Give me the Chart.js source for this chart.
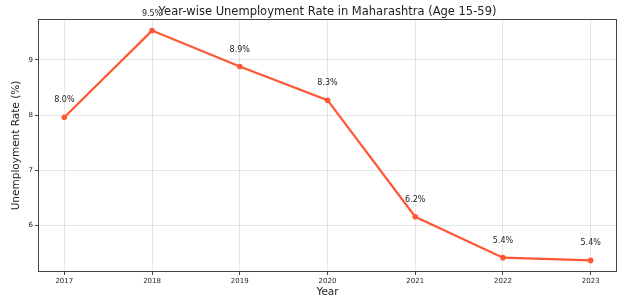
<!DOCTYPE html>
<html>
<head>
<meta charset="utf-8">
<script src="https://cdn.jsdelivr.net/npm/chart.js@4"></script>
<style>
  html, body { margin: 0; padding: 0; background: #fff; }
  #wrap { width: 623px; height: 299px; }
</style>
</head>
<body>
<div id="wrap"><canvas id="chart"></canvas></div>
<script>
const years = [2017, 2018, 2019, 2020, 2021, 2022, 2023];
const rates = [7.96, 9.53, 8.88, 8.27, 6.16, 5.42, 5.37];
const yTicks = [6, 7, 8, 9];
const chartTitle = 'Year-wise Unemployment Rate in Maharashtra (Age 15-59)';

const lineColor = '#ff5733';

// value labels above each point
const pointLabels = {
    id: 'pointLabels',
    afterDatasetsDraw(chart) {
        const ctx = chart.ctx;
        const meta = chart.getDatasetMeta(0);
        ctx.save();
        ctx.font = '8px "DejaVu Sans"';
        ctx.fillStyle = '#222';
        ctx.textAlign = 'center';
        ctx.textBaseline = 'middle';
        meta.data.forEach((pt, i) => {
            ctx.fillText(rates[i].toFixed(1) + '%', pt.x, pt.y - 17);
        });
        ctx.restore();
    }
};

// box around the plot area + title centred over it (like matplotlib)
const frame = {
    id: 'frame',
    afterDraw(chart) {
        const a = chart.chartArea;
        const ctx = chart.ctx;
        ctx.save();
        ctx.strokeStyle = '#444';
        ctx.lineWidth = 1;
        ctx.strokeRect(a.left + 0.5, a.top + 0.5, a.right - a.left - 1, a.bottom - a.top - 1);
        ctx.font = '11.5px "DejaVu Sans"';
        ctx.fillStyle = '#222';
        ctx.textAlign = 'center';
        ctx.textBaseline = 'middle';
        ctx.fillText(chartTitle, (a.left + a.right) / 2, 12);
        ctx.restore();
    }
};

const ctx = document.getElementById('chart').getContext('2d');
const chart = new Chart(ctx, {
    type: 'line',
    data: {
        datasets: [{
            label: 'Unemployment Rate',
            data: years.map((y, i) => ({ x: y, y: rates[i] })),
            borderColor: lineColor,
            backgroundColor: lineColor,
            borderWidth: 2.2,
            pointRadius: 2.8,
            pointBorderWidth: 0,
            tension: 0,
            fill: false
        }]
    },
    options: {
        responsive: true,
        maintainAspectRatio: false,
        animation: false,
        layout: {
            padding: { left: 0, right: 6, top: 19, bottom: 0 }
        },
        scales: {
            x: {
                type: 'linear',
                min: 2016.7,
                max: 2023.3,
                afterBuildTicks: s => { s.ticks = years.map(v => ({ value: v })); },
                afterFit: s => { s.height = 27; },
                grid: {
                    color: 'rgba(0,0,0,0.1)',
                    tickColor: '#444',
                    tickLength: 3
                },
                border: { display: false },
                ticks: {
                    color: '#222',
                    font: { size: 7, family: 'DejaVu Sans' },
                    padding: 2,
                    maxRotation: 0,
                    callback: v => String(v)
                },
                title: {
                    display: true,
                    text: 'Year',
                    color: '#222',
                    font: { size: 10.5, family: 'DejaVu Sans' },
                    padding: { top: 0, bottom: 0 }
                }
            },
            y: {
                min: 5.16,
                max: 9.74,
                afterBuildTicks: s => { s.ticks = yTicks.map(v => ({ value: v })); },
                afterFit: s => { s.width = 38; },
                grid: {
                    color: 'rgba(0,0,0,0.1)',
                    tickColor: '#444',
                    tickLength: 3
                },
                border: { display: false },
                ticks: {
                    color: '#222',
                    font: { size: 7, family: 'DejaVu Sans' },
                    padding: 2
                },
                title: {
                    display: true,
                    text: 'Unemployment Rate (%)',
                    color: '#222',
                    font: { size: 10.5, family: 'DejaVu Sans' },
                    padding: { top: 10, bottom: 4 }
                }
            }
        },
        plugins: {
            legend: { display: false },
            tooltip: { enabled: false },
            title: { display: false }
        }
    },
    plugins: [pointLabels, frame]
});
</script>
</body>
</html>
